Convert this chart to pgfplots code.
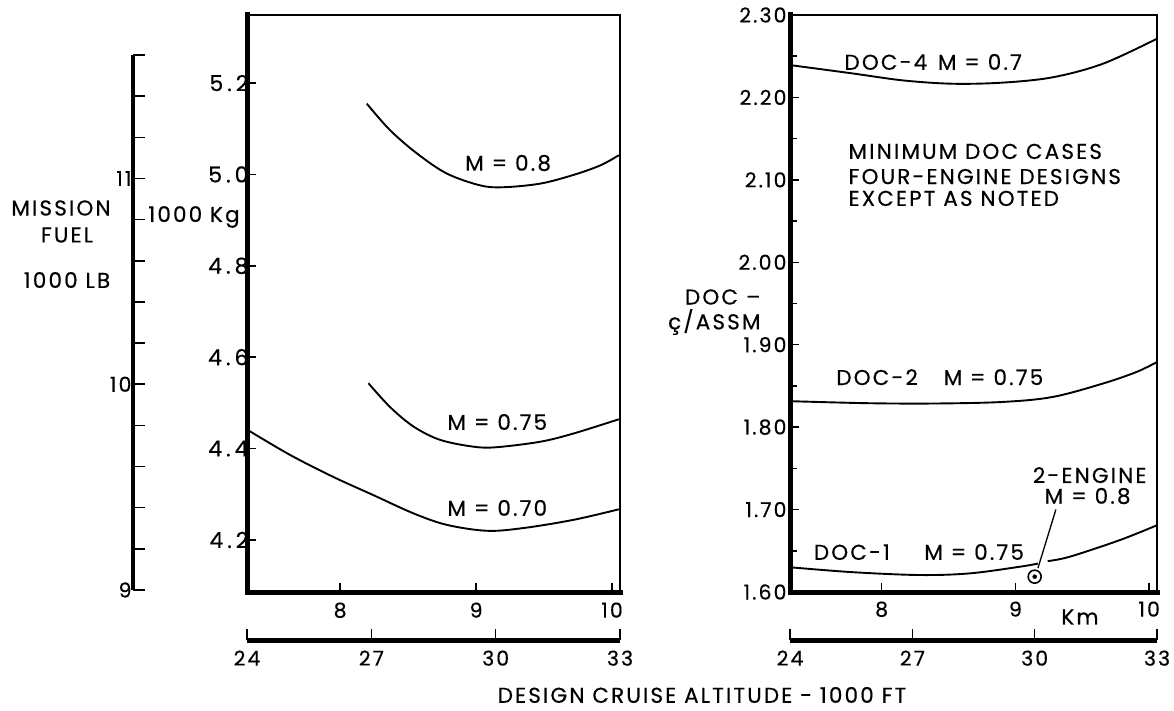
\documentclass[border=0pt]{standalone}
\usepackage{pgfplots}
\pgfplotsset{compat=1.18}
\usepackage{fontspec}
\setmainfont{Poppins}[LetterSpace=10, FakeBold=0.4]
\newfontfamily\tickfont{Poppins}[LetterSpace=18, FakeBold=0.4]
\newcommand{\ft}{\fontsize{20.5}{23}\selectfont}
\newcommand{\ftl}{\tickfont\fontsize{22}{24}\selectfont}
\newcommand{\fl}{\fontsize{21.5}{24}\selectfont}
\begin{document}
\begin{tikzpicture}[x=1pt,y=1pt]
\useasboundingbox (0pt,0pt) rectangle (1174pt,710pt);
\pgfplotsset{
  every axis/.append style={scale only axis, anchor=south west, clip=false,
    tick label style={font=\ft}, /pgf/number format/assume math mode=true,
    tick align=inside, major tick length=9pt, minor tick length=7pt,
    tick style={line width=1.5pt, black}, axis line style={line width=1.8pt}},
  crv/.style={black, line width=1.9pt, smooth, tension=0.55, mark=none},
}
% ---------- outer 1000 LB scale ----------
\begin{axis}[at={(133pt,120pt)}, width=1pt, height=535pt, xmin=0, xmax=1, ymin=9, ymax=11.6,
  hide x axis, axis y line*=left, y axis line style={line width=4.5pt, -},
  ytick={9,10,11}, minor ytick={9.2,9.4,9.6,9.8,10.2,10.4,10.6,10.8,11.2,11.4,11.6},
  major tick length=12pt, minor tick length=12pt, ytick pos=left,
  yticklabel style={xshift=2pt}]
\end{axis}
% ---------- left panel ----------
\begin{axis}[at={(247pt,118pt)}, width=373pt, height=577pt,
  xmin=24, xmax=33, ymin=4.086, ymax=5.349,
  xtick={26.247,29.528,32.808}, xticklabels={8,9,10}, xtick pos=bottom,
  ytick={4.2,4.4,4.6,4.8,5.0,5.2}, ytick pos=left,
  yticklabel style={font=\ftl, xshift=5pt, /pgf/number format/.cd, fixed, fixed zerofill, precision=1},
  xticklabel style={yshift=-7pt}]
\addplot[crv] coordinates {(26.89,5.155) (27.45,5.097) (28.10,5.046) (28.82,5.002) (29.63,4.976) (30.19,4.972) (31.08,4.980) (31.88,4.999) (32.53,5.020) (32.97,5.042)};
\addplot[crv] coordinates {(26.93,4.543) (27.45,4.491) (28.02,4.448) (28.66,4.419) (29.47,4.404) (30.03,4.403) (31.08,4.415) (31.88,4.433) (32.97,4.464)};
\addplot[crv] coordinates {(24.03,4.440) (25.04,4.386) (26.08,4.338) (27.05,4.298) (28.02,4.258) (28.82,4.233) (29.79,4.220) (30.67,4.226) (31.88,4.244) (32.97,4.267)};
\node[font=\fl] at (axis cs:30.30,5.025) {M = 0.8};
\node[font=\fl] at (axis cs:30.04,4.458) {M = 0.75};
\node[font=\fl] at (axis cs:30.04,4.270) {M = 0.70};
\draw[line width=5pt, line cap=rect] (rel axis cs:0,1) -- (rel axis cs:0,0) -- (rel axis cs:1,0);
\end{axis}
% ---------- left ft scale ----------
\begin{axis}[at={(247pt,70pt)}, width=373pt, height=1pt, xmin=24, xmax=33, ymin=0, ymax=1,
  hide y axis, axis x line*=bottom, x axis line style={line width=5pt, -},
  xtick={24,27,30,33}, xtick pos=bottom, major tick length=11pt,
  xticklabel style={yshift=-7pt}]
\end{axis}
% ---------- right panel ----------
\begin{axis}[at={(790pt,118pt)}, width=367pt, height=577pt,
  xmin=24, xmax=33, ymin=1.6, ymax=2.3,
  xtick={26.247,29.528,32.808}, xticklabels={8,9,10}, xtick pos=bottom,
  ytick={1.6,1.7,...,2.31}, minor ytick={1.65,1.75,...,2.26}, ytick pos=left,
  yticklabel style={/pgf/number format/.cd, fixed, fixed zerofill, precision=2},
  xticklabel style={yshift=-6pt}]
\addplot[crv] coordinates {(24.04,2.239) (25.55,2.229) (26.78,2.2206) (28.0,2.2166) (29.23,2.218) (30.45,2.2245) (31.68,2.241) (32.99,2.271)};
\addplot[crv] coordinates {(24.0,1.8315) (25.96,1.829) (27.6,1.8287) (29.23,1.8306) (30.45,1.8367) (31.68,1.853) (32.5,1.867) (33.0,1.879)};
\addplot[crv] coordinates {(24.0,1.630) (25.55,1.624) (27.19,1.6206) (28.41,1.6226) (29.64,1.6307) (30.08,1.6345)};
\addplot[crv] coordinates {(30.32,1.6375) (30.86,1.6428) (32.09,1.663) (33.0,1.681)};
\addplot[only marks, mark=o, mark size=6.5pt, mark options={line width=1.6pt}] coordinates {(30.0,1.6186)};
\addplot[only marks, mark=*, mark size=2pt] coordinates {(30.0,1.6186)};
\draw[line width=1.3pt] (axis cs:30.08,1.629) -- (axis cs:30.52,1.70);
\node[font=\fl, anchor=west] at (axis cs:25.25,2.243) {DOC-4\hspace{0.5em}M = 0.7};
\node[font=\fl, anchor=west] at (axis cs:25.35,2.1345) {MINIMUM DOC CASES};
\node[font=\fl, anchor=west] at (axis cs:25.35,2.104) {FOUR-ENGINE DESIGNS};
\node[font=\fl, anchor=west] at (axis cs:25.35,2.0775) {EXCEPT AS NOTED};
\node[font=\fl, anchor=west] at (axis cs:25.05,1.8606) {DOC-2\hspace{1.2em}M = 0.75};
\node[font=\fl, anchor=west] at (axis cs:24.50,1.6485) {DOC-1\hspace{1.6em}M = 0.75};
\node[font=\fl] at (axis cs:31.35,1.7418) {2-ENGINE};
\node[font=\fl] at (axis cs:31.30,1.7164) {M = 0.8};
\node[font=\fl] at (axis cs:31.11,1.5697) {Km};
\draw[line width=5pt, line cap=rect] (rel axis cs:0,1) -- (rel axis cs:0,0) -- (rel axis cs:1,0);
\end{axis}
% ---------- right ft scale ----------
\begin{axis}[at={(790pt,70pt)}, width=367pt, height=1pt, xmin=24, xmax=33, ymin=0, ymax=1,
  hide y axis, axis x line*=bottom, x axis line style={line width=5pt, -},
  xtick={24,27,30,33}, xtick pos=bottom, major tick length=11pt,
  xticklabel style={yshift=-7pt}]
\end{axis}
% ---------- outer labels ----------
\node[font=\fl] at (61pt,502pt) {MISSION};
\node[font=\fl] at (67pt,475pt) {FUEL};
\node[font=\fl] at (67pt,430pt) {1000 LB};
\node[font=\fl] at (194pt,493pt) {1000 Kg};
\node[font=\fl, anchor=east] at (764pt,413pt) {DOC –};
\node[font=\fl, anchor=east] at (764pt,388pt) {ç/ASSM};
\node[font=\fl] at (702pt,15pt) {DESIGN CRUISE ALTITUDE - 1000 FT};
\end{tikzpicture}
\end{document}
